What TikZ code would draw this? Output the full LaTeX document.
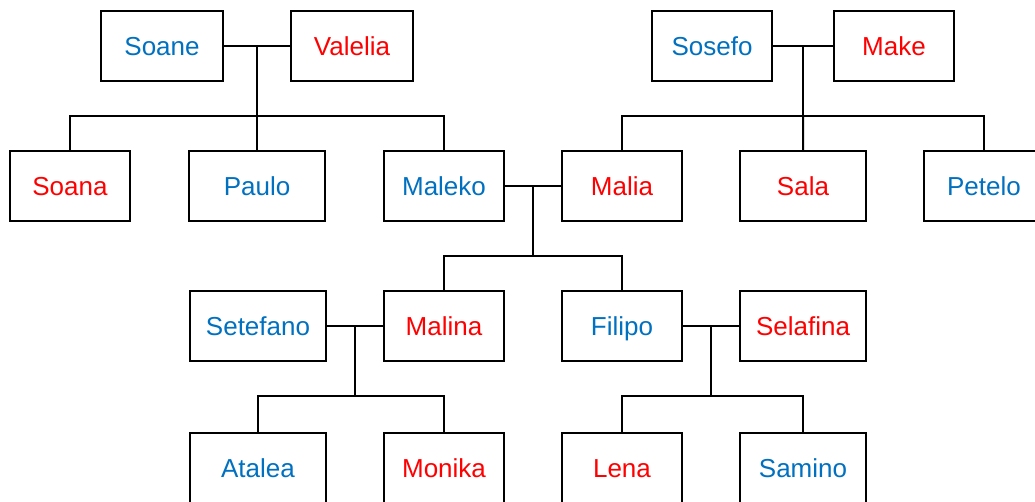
\documentclass[tikz,border=0pt]{standalone}
\usepackage{fontspec}
\setmainfont{Liberation Sans}
\usetikzlibrary{calc}

\definecolor{sonblue}{RGB}{0,112,192}
\definecolor{daughterred}{RGB}{255,0,0}

\tikzset{
    person/.style={draw,line width=0.04cm,minimum width=2.4cm,minimum height=1.4cm,
        inner sep=0pt,text height=10.6pt,text depth=0pt,
        font=\fontsize{14.8}{17}\selectfont},
    male/.style={person,text=sonblue},
    female/.style={person,text=daughterred},
    wide/.style={minimum width=2.72cm},
    mid/.style={minimum width=2.52cm},
    link/.style={line width=0.04cm},
}

\begin{document}
\begin{tikzpicture}[x=0.02cm,y=-0.02cm]

    \useasboundingbox (0,0) rectangle (1035,502);
    \clip (0,0) rectangle (1035,502);

    \node [male,minimum width=2.44cm] (soane) at (162,46) {Soane};
    \node [female,minimum width=2.44cm] (valelia) at (352,46) {Valelia};
    \node [male] (sosefo) at (712,46) {Sosefo};
    \node [female] (make) at (894,46) {Make};

    \node [female] (soana) at (70,186) {Soana};
    \node [male,wide] (paulo) at (257,186) {Paulo};
    \node [male] (maleko) at (444,186) {Maleko};
    \node [female] (malia) at (622,186) {Malia};
    \node [female,mid] (sala) at (803,186) {Sala};
    \node [male] (petelo) at (984,186) {Petelo};

    \node [male,wide] (setefano) at (258,326) {Setefano};
    \node [female] (malina) at (444,326) {Malina};
    \node [male] (filipo) at (622,326) {Filipo};
    \node [female,mid] (selafina) at (803,326) {Selafina};

    \node [male,wide] (atalea) at (258,468) {Atalea};
    \node [female] (monika) at (444,468) {Monika};
    \node [female] (lena) at (622,468) {Lena};
    \node [male,mid] (samino) at (803,468) {Samino};

    \draw [link] (soane) -- (valelia);
    \coordinate (sv) at ($(soane.east)!.5!(valelia.west)$);
    \draw [link] (sv) -- ++(0,70) coordinate (svbar);
    \draw [link] (soana.north) |- (svbar) -| (maleko.north);
    \draw [link] (svbar) -- (paulo.north);

    \draw [link] (sosefo) -- (make);
    \coordinate (sm) at ($(sosefo.east)!.5!(make.west)$);
    \draw [link] (sm) -- ++(0,70) coordinate (smbar);
    \draw [link] (malia.north) |- (smbar) -| (petelo.north);
    \draw [link] (smbar) -- (sala.north);

    \draw [link] (maleko) -- (malia);
    \coordinate (mm) at ($(maleko.east)!.5!(malia.west)$);
    \draw [link] (mm) -- ++(0,70) coordinate (mmbar);
    \draw [link] (malina.north) |- (mmbar) -| (filipo.north);

    \draw [link] (setefano) -- (malina);
    \coordinate (sma) at ($(setefano.east)!.5!(malina.west)$);
    \draw [link] (sma) -- ++(0,70) coordinate (smabar);
    \draw [link] (atalea.north) |- (smabar) -| (monika.north);

    \draw [link] (filipo) -- (selafina);
    \coordinate (fs) at ($(filipo.east)!.5!(selafina.west)$);
    \draw [link] (fs) -- ++(0,70) coordinate (fsbar);
    \draw [link] (lena.north) |- (fsbar) -| (samino.north);

\end{tikzpicture}
\end{document}
